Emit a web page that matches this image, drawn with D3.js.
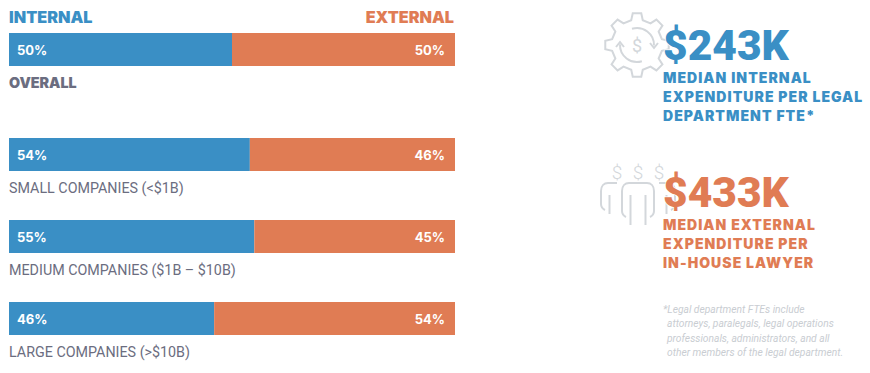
<!DOCTYPE html>
<html>
<head>
<meta charset="utf-8">
<script src="https://cdn.jsdelivr.net/npm/d3@7"></script>
<style>
    body { margin: 0; background: #fff; }
    svg { display: block; }
    text { font-family: "Roboto", sans-serif; }
    .heavy { font-family: "Inter", sans-serif; font-weight: 900; }
</style>
</head>
<body>
<svg id="chart" width="870" height="373"></svg>
<script>
var categories = ["OVERALL", "SMALL COMPANIES (<$1B)", "MEDIUM COMPANIES ($1B \u2013 $10B)", "LARGE COMPANIES (>$10B)"]
var internalValues = [50, 54, 55, 46]
var externalValues = [50, 46, 45, 54]
var seriesNames = ["INTERNAL", "EXTERNAL"]
var statValues = ["$243K", "$433K"]
var statInternalLines = ["MEDIAN INTERNAL", "EXPENDITURE PER LEGAL", "DEPARTMENT FTE*"]
var statExternalLines = ["MEDIAN EXTERNAL", "EXPENDITURE PER", "IN-HOUSE LAWYER"]
var noteLines = ["*Legal department FTEs include", "attorneys, paralegals, legal operations", "professionals, administrators, and all", "other members of the legal department."]

var blue = "#3a8fc5"
var orange = "#e07c54"
var grey = "#6b6d80"
var iconGrey = "#d3d7db"

var svg = d3.select("#chart")

var xScale = d3.scaleLinear().domain([0, 100]).range([9, 455])
var barTops = [33, 138, 220, 302]
var barHeight = 33

// header labels
svg.append("text").attr("class", "heavy").attr("x", 9).attr("y", 23)
    .attr("fill", blue).style("font-size", "16.2px")
    .text(seriesNames[0])
svg.append("text").attr("class", "heavy").attr("x", 454).attr("y", 23).attr("text-anchor", "end")
    .attr("fill", orange).style("font-size", "16.2px")
    .text(seriesNames[1])

var rows = svg.selectAll(".row")
    .data(categories)
    .enter()
    .append("g")
    .attr("class", "row")
    .attr("transform", (d, i) => "translate(0," + barTops[i] + ")")

rows.append("rect")
    .attr("x", xScale(0))
    .attr("y", 0)
    .attr("width", (d, i) => xScale(internalValues[i]) - xScale(0))
    .attr("height", barHeight)
    .attr("fill", blue)

rows.append("rect")
    .attr("x", (d, i) => xScale(internalValues[i]))
    .attr("y", 0)
    .attr("width", (d, i) => xScale(100) - xScale(internalValues[i]))
    .attr("height", barHeight)
    .attr("fill", orange)

rows.append("text")
    .attr("x", xScale(0) + 8)
    .attr("y", 22)
    .attr("fill", "#fff")
    .style("font-family", "Inter")
    .style("font-size", "13px")
    .style("font-weight", 700)
    .text((d, i) => internalValues[i] + "%")

rows.append("text")
    .attr("x", xScale(100) - 10)
    .attr("y", 22)
    .attr("text-anchor", "end")
    .attr("fill", "#fff")
    .style("font-family", "Inter")
    .style("font-size", "13px")
    .style("font-weight", 700)
    .text((d, i) => externalValues[i] + "%")

rows.append("text")
    .attr("class", (d, i) => i == 0 ? "heavy" : null)
    .attr("x", 9)
    .attr("y", barHeight + 22)
    .attr("fill", grey)
    .style("font-size", "14.3px")
    .text(d => d)

// gear icon
var gear = svg.append("g").attr("transform", "translate(637,45)")
    .attr("fill", "none").attr("stroke", iconGrey).attr("stroke-width", 2)

var teeth = 8
var gearPts = []
for (let i = 0; i < teeth; i++) {
    var a = i / teeth * 2 * Math.PI
    var w = 2 * Math.PI / teeth
    gearPts.push([a - w * 0.29, 25.5], [a - w * 0.17, 32], [a + w * 0.17, 32], [a + w * 0.29, 25.5])
}
gear.append("path").attr("d", d3.lineRadial().curve(d3.curveLinearClosed)(gearPts))

var ringArc = d3.arc().innerRadius(17).outerRadius(17)
gear.append("path").attr("d", ringArc({startAngle: -0.3, endAngle: 1.6}))
gear.append("path").attr("d", ringArc({startAngle: 2.85, endAngle: 4.75}))
gear.append("path").attr("d", "M13 -2 L17 3 L21 -2")
gear.append("path").attr("d", "M-21 2 L-17 -3 L-13 2")
gear.append("text").attr("text-anchor", "middle").attr("y", 6.5)
    .attr("fill", iconGrey).attr("stroke", "none")
    .style("font-size", "18px").text("$")

// people icon, the outer two sit behind the middle one so only one side shows
var people = svg.append("g").attr("fill", "none").attr("stroke", iconGrey).attr("stroke-width", 2)
var personX = [617, 638, 659]
personX.forEach(function (px) {
    people.append("text").attr("x", px).attr("y", 179).attr("text-anchor", "middle")
        .attr("fill", iconGrey).attr("stroke", "none")
        .style("font-size", "19px").style("font-weight", 300).text("$")
})
function personSide(px, dir, armEnd, lineEnd) {
    people.append("path").attr("d",
        "M" + px + " 183 L" + (px + dir * 9) + " 183 C" + (px + dir * 13) + " 183 " + (px + dir * 16) + " 186 " + (px + dir * 16) + " 191" +
        " L" + (px + dir * 16) + " " + (armEnd - 6) + " C" + (px + dir * 16) + " " + (armEnd - 3) + " " + (px + dir * 14) + " " + (armEnd - 1) + " " + (px + dir * 12) + " " + armEnd)
    people.append("line").attr("x1", px + dir * 7.5).attr("x2", px + dir * 7.5).attr("y1", 195).attr("y2", lineEnd)
}
personSide(personX[0], -1, 210, 214)
personSide(personX[1], -1, 217, 225)
personSide(personX[1], 1, 217, 225)
personSide(personX[2], 1, 210, 214)

// stat blocks
function statBlock(value, lines, color, valueY, lineYs) {
    svg.append("text").attr("x", 663).attr("y", valueY)
        .attr("fill", color).style("font-size", "42.5px").style("font-weight", 900)
        .style("paint-order", "stroke").attr("stroke", "#fff").attr("stroke-width", 1.5)
        .text(value)
    svg.selectAll(null).data(lines).enter().append("text")
        .attr("class", "heavy")
        .attr("x", 663)
        .attr("y", (d, i) => lineYs[i])
        .attr("fill", color)
        .style("font-size", "14px")
        .style("letter-spacing", "1.05px")
        .text(d => d)
}
statBlock(statValues[0], statInternalLines, blue, 60, [83, 102, 121])
statBlock(statValues[1], statExternalLines, orange, 207, [230, 249, 268])

svg.selectAll(".note").data(noteLines).enter().append("text")
    .attr("class", "note")
    .attr("x", (d, i) => i == 0 ? 663 : 667)
    .attr("y", (d, i) => 313 + i * 14.3)
    .attr("fill", "#c9cdd2")
    .style("font-size", "10.25px")
    .style("font-style", "italic")
    .text(d => d)
</script>
</body>
</html>
